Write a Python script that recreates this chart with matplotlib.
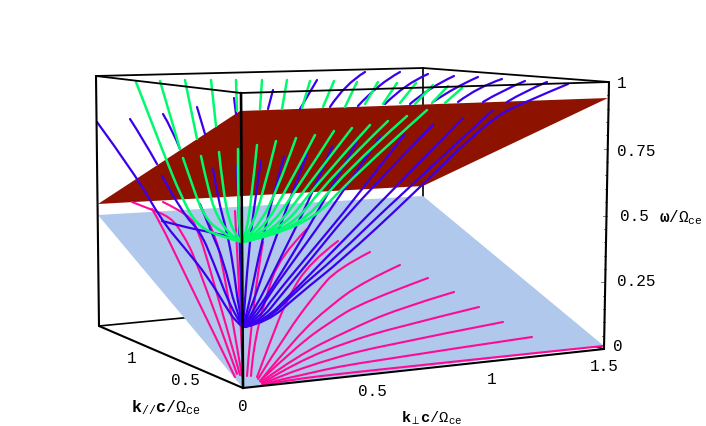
import matplotlib
matplotlib.use("Agg")
import matplotlib.pyplot as plt
from matplotlib.path import Path
from matplotlib.patches import PathPatch, Polygon

blue_plane = [(98, 216), (423, 197), (604, 347), (243, 389)]
red_plane = [(98, 205), (240, 112), (608, 99), (423, 187)]

green_curves = [
    [(136,83),(165,158),(181,197),(197,227),(222,238),(242,243)],
    [(160,82),(180,150)], [(183,159),(193,188),(202,213),(217,232),(242,243)],
    [(185,81),(197,140)], [(201,157),(208,190),(217,218),(232,238),(242,243)],
    [(211,81),(216,127)], [(219,153),(223,190),(229,222),(237,238),(242,243)],
    [(236,81),(237,112)], [(238,150),(238,200),(240,238),(242,243)],
    [(262,81),(260,110)], [(257,146),(252,195),(246,236),(242,243)],
    [(287,81),(282,110)], [(276,142),(263,195),(250,232),(242,243)],
    [(310,82),(302,109)], [(296,139),(276,195),(255,232),(242,243)],
    [(334,82),(323,108)], [(315,136),(287,190),(261,233),(242,243)],
    [(357,83),(345,108)], [(334,132),(297,190),(266,234),(242,243)],
    [(378,83),(365,105)], [(352,129),(305,190),(272,235),(242,243)],
    [(397,84),(383,105)], [(370,126),(318,183),(280,234),(242,243)],
    [(416,84),(400,104)], [(388,122),(330,178),(288,234),(242,243)],
    [(433,86),(415,105)], [(407,117),(342,175),(298,232),(242,243)],
    [(448,87),(432,104)], [(427,111),(352,178),(305,230),(242,243)],
    [(462,89),(445,104)],
]

blue_curves = [
    [(97,123),(135,175),(162,222),(183,247),(208,278),(226,308),(236,323),(243,328)],
    [(162,222),(193,230),(205,232),(217,235),(228,237)],
    [(130,120),(143,140),(157,165)], [(162,177),(183,215),(200,232),(213,262),(232,312),(243,328)],
    [(163,115),(172,130),(180,150)], [(200,205),(212,235),(223,260),(236,312),(243,328)],
    [(197,108),(205,135)], [(213,170),(218,200),(227,233),(233,265),(239,312),(243,328)],
    [(234,99),(236,115)], [(237,167),(240,240),(242,328)],
    [(273,91),(268,110)], [(261,162),(255,200),(248,260),(244,315),(243,328)],
    [(317,81),(300,110)], [(284,158),(272,200),(258,260),(247,315),(243,328)],
    [(365,73),(345,85),(330,108)], [(307,155),(290,200),(268,260),(249,315),(243,328)],
    [(400,73),(378,85),(358,107)], [(332,148),(310,200),(280,260),(253,314),(243,328)],
    [(428,75),(405,85),(385,105)], [(357,143),(325,200),(290,260),(256,314),(243,328)],
    [(454,77),(430,88),(410,105)], [(380,138),(338,200),(295,260),(266,300),(258,316),(243,328)],
    [(478,78),(455,88),(433,103)], [(405,135),(355,200),(305,260),(272,300),(260,318),(243,328)],
    [(502,80),(478,88),(458,103)], [(433,126),(360,200),(311,260),(278,300),(262,320),(244,328)],
    [(525,82),(503,91),(483,103)], [(463,119),(384,200),(325,260),(291,295),(265,321),(245,328)],
    [(547,83),(525,92),(507,103)], [(493,111),(396,200),(334,260),(296,292),(267,322),(245,328)],
    [(568,85),(527,102),(490,120),(408,200),(343,260),(298,296),(268,323),(245,328)],
]

pink_curves = [
    [(132,203),(150,210),(170,218),(182,233),(198,265),(237,375)],
    [(152,210),(160,223),(180,265),(235,378)],
    [(163,203),(190,216),(198,232),(208,262),(240,376)],
    [(200,207),(213,230),(223,265),(242,377)],
    [(235,212),(238,265),(243,376)],
    [(263,243),(253,300),(247,377)],
    [(307,230),(280,257),(265,300),(253,350),(251,377)],
    [(338,242),(310,263),(287,300),(270,343),(257,378)],
    [(370,253),(337,270),(317,293),(287,333),(258,380)],
    [(400,266),(363,283),(330,307),(297,337),(260,382)],
    [(428,279),(363,303),(330,323),(297,347),(260,382)],
    [(454,293),(397,310),(347,332),(297,357),(261,383)],
    [(479,308),(397,328),(347,343),(297,363),(262,384)],
    [(503,323),(380,347),(330,360),(280,377),(262,385)],
    [(532,338),(363,363),(313,373),(263,385)],
    [(603,347),(363,372),(280,382),(263,386)],
]

omega_ticks = [0.05 * i for i in range(21)]
right_ticks = ["1", "0.75", "0.5", "0.25", "0"]
right_tick_pos = [(622,83), (636,152), (634,217), (636,282), (618,347)]
perp_ticks = ["1.5", "1", "0.5"]
perp_tick_pos = [(604,367), (492,380), (372,392)]
par_ticks = ["0", "0.5", "1"]
par_tick_pos = [(243,407), (185,381), (132,359)]

plt.rcParams["mathtext.fontset"] = "custom"
plt.rcParams["mathtext.rm"] = "Liberation Mono"
plt.rcParams["mathtext.it"] = "Liberation Mono:italic"
plt.rcParams["mathtext.bf"] = "Liberation Mono:bold"

fig = plt.figure(figsize=(7.06, 4.27), dpi=100)
ax = fig.add_axes([0, 0, 1, 1])
ax.set_xlim(0, 706)
ax.set_ylim(427, 0)
ax.axis("off")


def smooth(nodes):
    verts = [nodes[0]]
    codes = [Path.MOVETO]
    if len(nodes) == 2:
        verts.append(nodes[1])
        codes.append(Path.LINETO)
    else:
        for i in range(1, len(nodes) - 1):
            a, b = nodes[i], nodes[i + 1]
            end = b if i == len(nodes) - 2 else ((a[0] + b[0]) / 2, (a[1] + b[1]) / 2)
            verts += [a, end]
            codes += [Path.CURVE3, Path.CURVE3]
    return Path(verts, codes)


def edges(pts, lw, z, color="black"):
    ax.plot([p[0] for p in pts], [p[1] for p in pts], color=color, lw=lw, zorder=z,
            solid_capstyle="round", solid_joinstyle="round")


# back edges, hidden by the planes
edges([(99,327),(423,296),(604,350)], 1.2, 1)
edges([(423,69),(423,296)], 1.2, 1)

ax.add_patch(Polygon(blue_plane, closed=True, fc="#AFC8EC", ec="none", zorder=2))
ax.add_patch(Polygon(red_plane, closed=True, fc="#8E1200", ec="none", zorder=3))

for c in pink_curves:
    ax.add_patch(PathPatch(smooth(c), fc="none", ec="#FF0A96", lw=1.5, zorder=4, capstyle="round"))
for c in blue_curves:
    ax.add_patch(PathPatch(smooth(c), fc="none", ec="#3A00EE", lw=1.6, zorder=5, capstyle="round"))
for c in green_curves:
    ax.add_patch(PathPatch(smooth(c), fc="none", ec="#00FA6E", lw=1.8, zorder=6, capstyle="round"))

# box front edges
edges([(96,77),(423,69),(609,83)], 1.3, 7)
edges([(96,77),(241,94),(609,83)], 1.3, 7)
edges([(96,77),(99,327)], 1.5, 7)
edges([(609,83),(604,350)], 1.5, 7)
edges([(241,94),(243,389)], 1.9, 8)
edges([(99,327),(243,389),(604,350)], 1.5, 8)

# small ticks on the right edge of the box
for i, w in enumerate(omega_ticks):
    x = 604 + 5 * w
    y = 350 - 267 * w
    ax.plot([x - (4 if i % 5 == 0 else 2), x], [y, y], color="#808080", lw=0.7, zorder=6.5)

mono = "Liberation Mono"
for labs, poss in ((right_ticks, right_tick_pos), (perp_ticks, perp_tick_pos), (par_ticks, par_tick_pos)):
    for s, (x, y) in zip(labs, poss):
        ax.text(x, y, s, family=mono, fontsize=11.5, ha="center", va="center", color="black", zorder=9)

ax.text(681, 218, r"$\mathbf{\omega}/\Omega_{\mathrm{ce}}$", fontsize=11.5, ha="center", va="center", zorder=9)
ax.text(166, 408, r"$\mathbf{k}_{//}\mathbf{c}/\Omega_{\mathrm{ce}}$", fontsize=12, ha="center", va="center", zorder=9)
ax.text(432, 418, r"$\mathbf{k}_{\perp}\mathbf{c}/\Omega_{\mathrm{ce}}$", fontsize=11, ha="center", va="center", zorder=9)

fig.savefig("out.png", dpi=100, facecolor="white")
